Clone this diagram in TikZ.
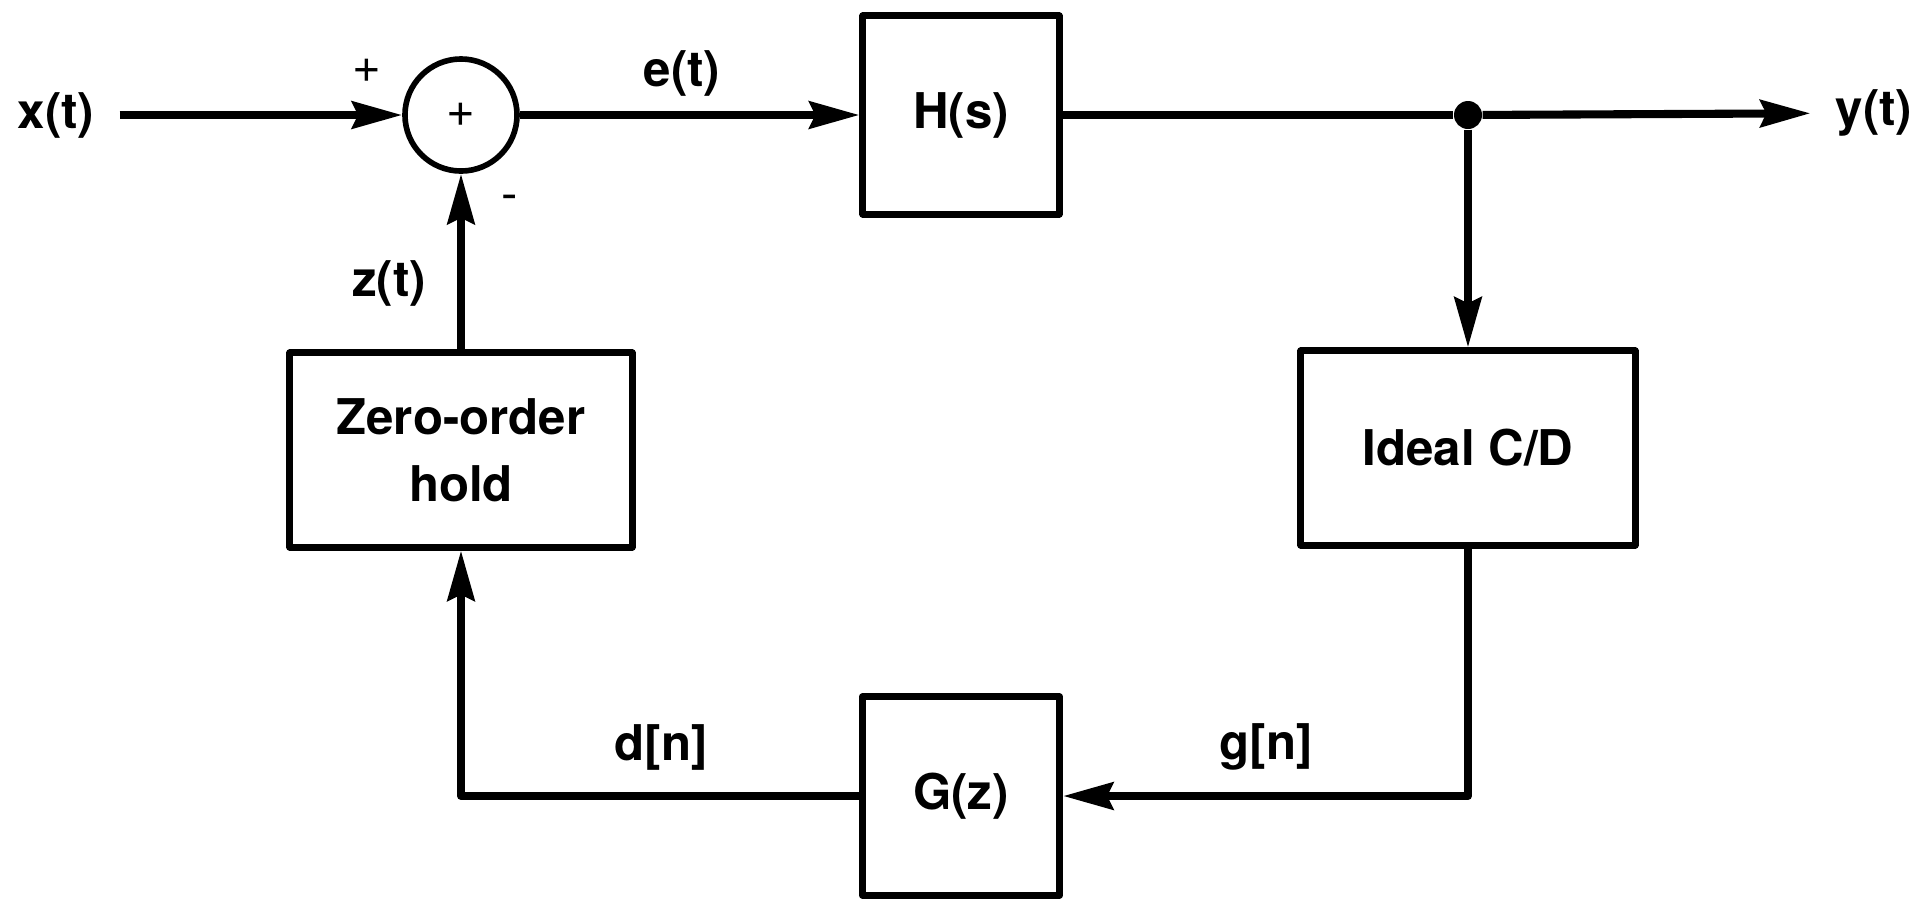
\documentclass[tikz,border=0pt]{standalone}
\usepackage{fontspec}
\setmainfont{TeX Gyre Heros}
\usetikzlibrary{arrows.meta}

\begin{document}
\begin{tikzpicture}[x=0.01cm, y=-0.01cm, line join=round,
    block/.style={draw, line width=2pt, align=center, font=\fontsize{14}{19}\selectfont\bfseries},
    sig/.style={line width=2.3pt, -{Stealth[length=0.5cm, width=0.27cm, inset=0.06cm]}},
    lbl/.style={font=\fontsize{14}{17}\selectfont\bfseries, inner xsep=7pt}]
    \useasboundingbox (0,0) rectangle (1926,908);

    % Blocks
    \node[draw, circle, line width=1.6pt, minimum size=1.12cm, font=\fontsize{14}{17}\selectfont] (sum) at (461,115) {+};
    \node[block, minimum width=1.96cm, minimum height=1.98cm] (H) at (961,115) {H(s)};
    \node[block, minimum width=3.34cm, minimum height=1.94cm] (CD) at (1468,448) {Ideal C/D};
    \node[block, minimum width=3.42cm, minimum height=1.94cm] (ZOH) at (461,450) {Zero-order\\hold};
    \node[block, minimum width=1.97cm, minimum height=1.98cm] (G) at (961,796) {G(z)};

    % Input, output and branch point
    \node[lbl] (xt) at (56,115) {x(t)};
    \node[lbl] (yt) at (1874,113) {y(t)};
    \node[circle, fill, inner sep=0pt, minimum size=0.28cm] (dot) at (1468,115) {};

    % Signal paths
    \draw[sig] (xt) -- (sum);
    \draw[sig] (sum) -- (H);
    \draw[line width=2.3pt] (H) -- (dot);
    \draw[sig] (dot) -- (yt);
    \draw[sig] (dot) -- (CD);
    \draw[sig] (CD) |- (G);
    \draw[sig] (G) -| (ZOH);
    \draw[sig] (ZOH) -- (sum);

    % Signal names and signs
    \node[lbl] (et) at (682,73) {e(t)};
    \node[lbl] (zt) at (389,283) {z(t)};
    \node[lbl] (dn) at (661,747) {d[n]};
    \node[lbl] (gn) at (1266,747) {g[n]};
    \node[font=\fontsize{14}{17}\selectfont] (plus) at (367,71) {+};
    \node[font=\fontsize{14}{17}\selectfont] (minus) at (510,203) {-};
\end{tikzpicture}
\end{document}
